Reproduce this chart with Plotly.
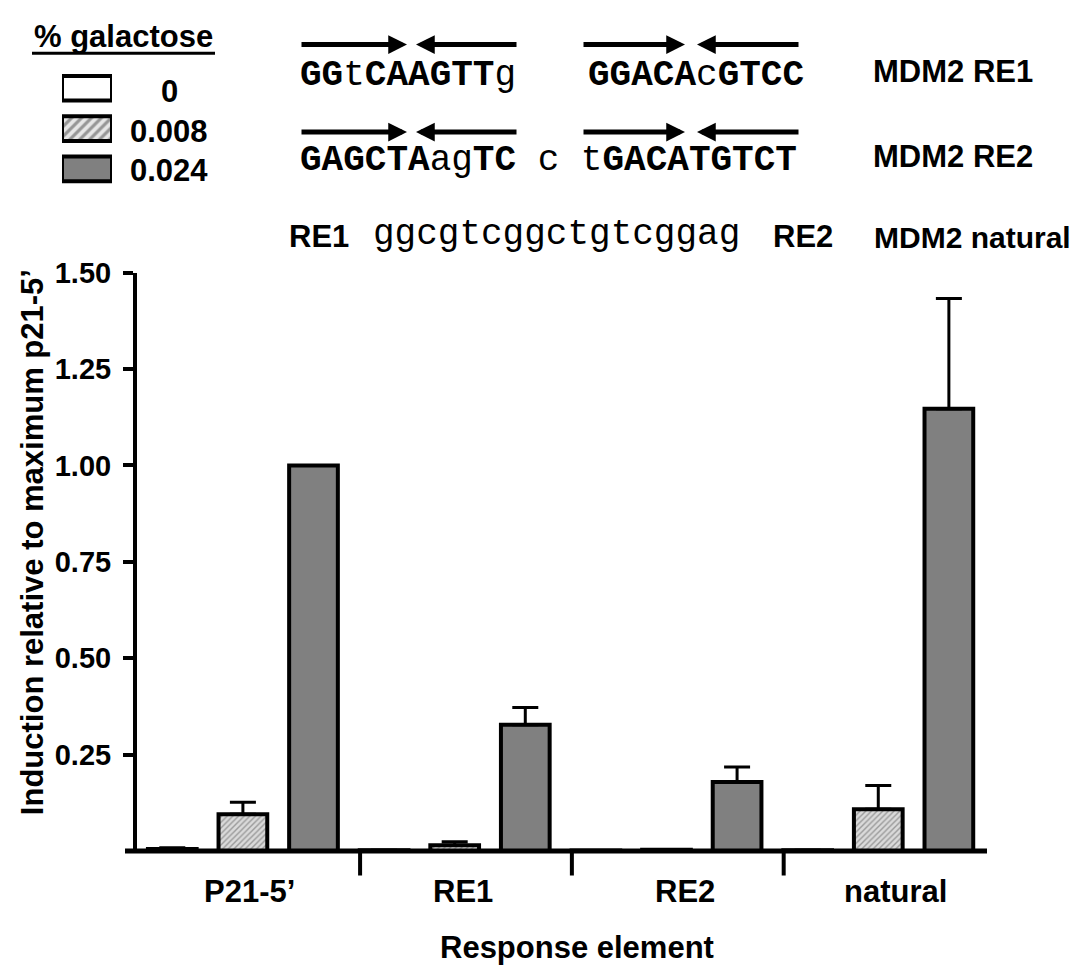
import plotly.graph_objects as go

# ---------------- data ----------------
categories = ["P21-5’", "RE1", "RE2", "natural"]
galactose = ["0", "0.008", "0.024"]
values_0 = [0.005, 0.002, 0.001, 0.002]
values_0008 = [0.095, 0.015, 0.003, 0.108]
values_0024 = [1.00, 0.327, 0.179, 1.147]
err_0 = [0.003, 0.0, 0.0, 0.0]
err_0008 = [0.031, 0.009, 0.0, 0.062]
err_0024 = [0.0, 0.045, 0.039, 0.286]
y_ticks = [0.25, 0.50, 0.75, 1.00, 1.25, 1.50]

# ---------------- geometry helpers ----------------
W, H = 1089, 965
def X(px):
    return px / W
def Y(py):
    return 1 - py / H

SANS = "Liberation Sans, Arial, sans-serif"
MONO = "Liberation Mono, Courier New, monospace"

fig = go.Figure()

series = [
    (values_0, err_0, dict(color="white")),
    (values_0008, err_0008, dict(color="#d4d4d4",
                                 pattern=dict(shape="/", fgcolor="#9a9a9a", bgcolor="#dadada",
                                              size=4, solidity=0.35, fillmode="replace"))),
    (values_0024, err_0024, dict(color="#808080")),
]
n_series = len(series)
for s, (vals, errs, mk) in enumerate(series):
    xs = [g * n_series + s for g in range(len(categories))]
    marker = dict(mk)
    marker["line"] = dict(color="black", width=4)
    fig.add_trace(go.Bar(
        x=xs, y=vals, width=0.69, marker=marker, name=galactose[s],
        error_y=dict(type="data", symmetric=False, array=errs,
                     arrayminus=[0] * len(errs), color="black", thickness=3, width=13),
        showlegend=False, hoverinfo="skip",
    ))

# legend boxes as a small horizontal bar chart
fig.add_trace(go.Bar(
    x=[1, 1, 1], y=list(range(len(galactose))), orientation="h", width=0.61,
    xaxis="x2", yaxis="y2", showlegend=False, hoverinfo="skip",
    marker=dict(color=["white", "#e6e6e6", "#808080"],
                pattern=dict(shape=["", "/", ""], fgcolor="#8a8a8a", bgcolor="#f2f2f2",
                             size=7, solidity=0.45),
                line=dict(color="black", width=4)),
))

fig.update_layout(
    width=W, height=H,
    margin=dict(l=0, r=0, t=0, b=0),
    paper_bgcolor="white", plot_bgcolor="white",
    barmode="overlay",
    xaxis=dict(domain=[X(137), X(987)], range=[-0.5, 11.54], showline=False,
               showticklabels=False, ticks="", showgrid=False, zeroline=False),
    yaxis=dict(domain=[Y(849), Y(261)], range=[0, 1.5], showline=True, linewidth=4,
               linecolor="black", ticks="outside", ticklen=10, tickwidth=4,
               tickcolor="black", tickvals=y_ticks,
               ticktext=[f"{v:.2f}" for v in y_ticks],
               tickfont=dict(family=SANS, size=29, color="black", weight="bold"),
               showgrid=False, zeroline=False, ticklabelstandoff=6),
    xaxis2=dict(domain=[X(62), X(112)], range=[0, 1], visible=False, anchor="y2"),
    yaxis2=dict(domain=[Y(176), Y(53)], range=[2.5, -0.5], visible=False, anchor="x2"),
)

shapes = []
# x axis line (extends slightly left of y axis)
shapes.append(dict(type="line", xref="paper", yref="paper", x0=X(125), x1=X(987),
                   y0=Y(849), y1=Y(849), line=dict(color="black", width=5)))
# group divider ticks
for g in range(1, len(categories)):
    xd = g * n_series - 0.34
    shapes.append(dict(type="line", xref="x", yref="paper", x0=xd, x1=xd,
                       y0=Y(849), y1=Y(874), line=dict(color="black", width=4)))
# legend title underline
shapes.append(dict(type="line", xref="paper", yref="paper", x0=X(32), x1=X(215),
                   y0=Y(38), y1=Y(38), line=dict(color="black", width=3)))
fig.update_layout(shapes=shapes)

ann = []
def txt(text, px, py, size, family=SANS, xanchor="center", angle=0):
    ann.append(dict(text=text, x=X(px), y=Y(py), xref="paper", yref="paper",
                    xanchor=xanchor, yanchor="middle", showarrow=False, textangle=angle,
                    font=dict(family=family, size=size, color="black")))

# legend
txt("<b>% galactose</b>", 123.5, 21, 31)
for lab, py in zip(galactose, [77, 117, 157]):
    txt(f"<b>{lab}</b>", 169, py, 31)

# sequences
txt("<b>GG</b>t<b>CAAGTT</b>g", 298, 60, 36, MONO, "left")
txt("<b>GGACA</b>c<b>GTCC</b>", 586, 60, 36, MONO, "left")
txt("<b>GAGCTA</b>ag<b>TC</b> c t<b>GACATGTCT</b>", 298, 147, 36, MONO, "left")
txt("ggcgtcggctgtcggag", 371, 222, 36, MONO, "left")
txt("<b>RE1</b>", 287, 224, 31, SANS, "left")
txt("<b>RE2</b>", 771, 224, 31, SANS, "left")
txt("<b>MDM2 RE1</b>", 871, 56, 31, SANS, "left")
txt("<b>MDM2 RE2</b>", 871, 143, 31, SANS, "left")
txt("<b>MDM2 natural</b>", 872, 225, 30, SANS, "left")

# arrows
for yrow in [29, 118]:
    for tail, head in [(300, 407), (518, 416), (582, 685), (800, 697)]:
        ann.append(dict(text="", x=X(head), y=Y(yrow), xref="paper", yref="paper",
                        ax=tail - head, ay=0, axref="pixel", ayref="pixel",
                        showarrow=True, arrowhead=2, arrowsize=0.75, arrowwidth=5,
                        arrowcolor="black", standoff=0, startstandoff=0))

# category labels
for lab, px in zip(categories, [249, 463, 685, 895]):
    txt(f"<b>{lab}</b>", px, 890, 31)

# axis titles
txt("<b>Response element</b>", 577, 947, 31)
txt("<b>Induction relative to maximum p21-5’</b>", 32, 535, 31, SANS, "center", -90)

fig.update_layout(annotations=ann)

fig.write_html("out.html")
